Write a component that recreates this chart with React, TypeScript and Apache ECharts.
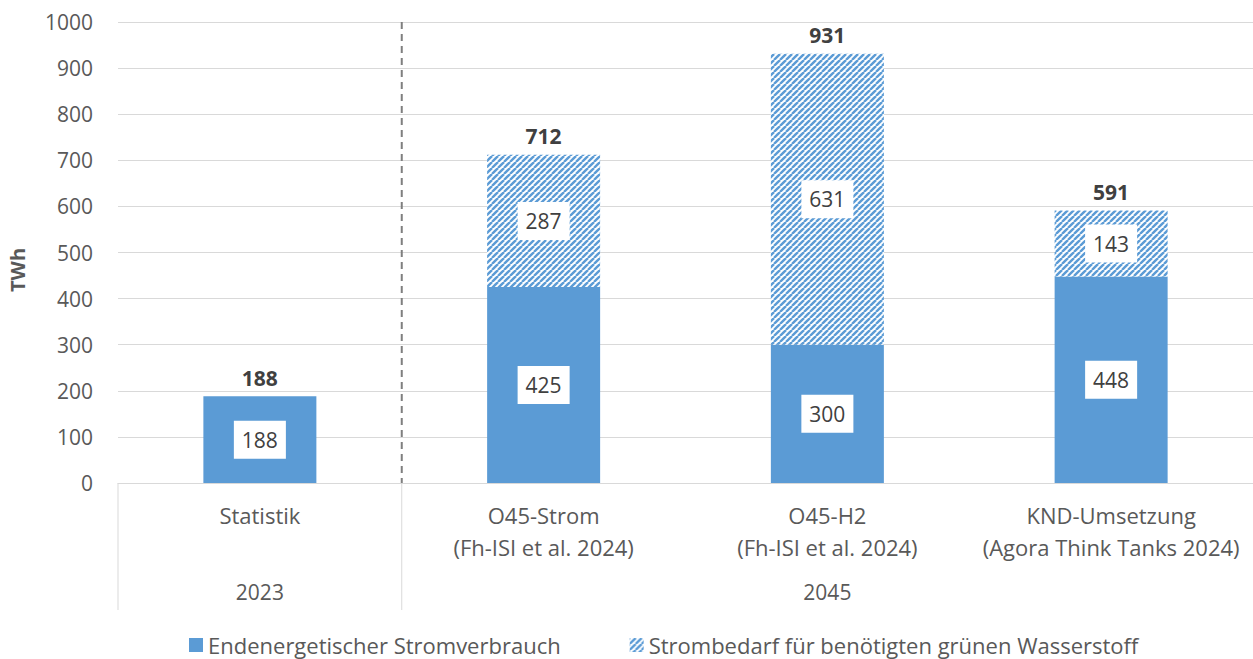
import React, { useEffect, useRef } from "react";
import * as echarts from "echarts";

const categories = [
  "Statistik",
  "O45-Strom\n(Fh-ISI et al. 2024)",
  "O45-H2\n(Fh-ISI et al. 2024)",
  "KND-Umsetzung\n(Agora Think Tanks 2024)",
];
const groups = [
  { label: "2023", from: 0, to: 0 },
  { label: "2045", from: 1, to: 3 },
];
const seriesNames = [
  "Endenergetischer Stromverbrauch",
  "Strombedarf für benötigten grünen Wasserstoff",
];
const endenergie = [188, 425, 300, 448];
const wasserstoff: (number | null)[] = [null, 287, 631, 143];
const yTicks = { min: 0, max: 1000, interval: 100 };

const BLUE = "#5B9BD5";
const TEXT = "#595959";
const DARK = "#404040";
const FONT = "'Open Sans', sans-serif";

function makeHatch() {
  const size = 6;
  const c = document.createElement("canvas");
  c.width = size;
  c.height = size;
  const ctx = c.getContext("2d")!;
  ctx.fillStyle = "#ffffff";
  ctx.fillRect(0, 0, size, size);
  ctx.strokeStyle = BLUE;
  ctx.lineWidth = 2.4;
  for (const x0 of [-size, 0, size]) {
    ctx.beginPath();
    ctx.moveTo(x0, size);
    ctx.lineTo(x0 + size, 0);
    ctx.stroke();
  }
  return { image: c, repeat: "repeat", imageWidth: size, imageHeight: size } as any;
}

export default function App() {
  const ref = useRef<HTMLDivElement>(null);
  useEffect(() => {
    if (!ref.current) return;
    const chart = echarts.init(ref.current, undefined, { renderer: "svg" });
    const totals = endenergie.map((v, i) => v + (wasserstoff[i] ?? 0));
    const hatch = makeHatch();
    const boxLabel = {
      show: true,
      position: "inside",
      color: DARK,
      fontFamily: FONT,
      fontSize: 21,
      backgroundColor: "#ffffff",
      padding: [8, 8, 8, 8],
      lineHeight: 22,
    };
    chart.setOption({
      animation: false,
      textStyle: { fontFamily: FONT },
      grid: { left: 118, right: -1, top: 22, bottom: 176, containLabel: false },
      legend: {
        data: seriesNames,
        left: 189,
        top: 634,
        padding: 0,
        itemGap: 69,
        itemWidth: 14,
        itemHeight: 14,
        icon: "rect",
        textStyle: { color: TEXT, fontSize: 22, lineHeight: 22, fontFamily: FONT },
        selectedMode: false,
      },
      xAxis: {
        type: "category",
        data: categories,
        axisLine: { lineStyle: { color: "#d9d9d9", width: 1 } },
        axisTick: { show: false },
        axisLabel: {
          color: TEXT,
          fontSize: 22,
          fontFamily: FONT,
          lineHeight: 32,
          margin: 16,
          interval: 0,
        },
      },
      yAxis: {
        type: "value",
        min: yTicks.min,
        max: yTicks.max,
        interval: yTicks.interval,
        axisLine: { show: false },
        axisTick: { show: false },
        splitLine: { lineStyle: { color: "#d9d9d9", width: 1 } },
        axisLabel: {
          color: TEXT,
          fontSize: 21,
          fontFamily: FONT,
          margin: 25,
          formatter: (v: number) => String(v),
        },
      },
      series: [
        {
          name: seriesNames[0],
          type: "bar",
          stack: "total",
          barWidth: 113,
          data: endenergie,
          itemStyle: { color: BLUE },
          label: boxLabel,
          silent: true,
        },
        {
          name: seriesNames[1],
          type: "bar",
          stack: "total",
          barWidth: 113,
          data: wasserstoff,
          itemStyle: { color: hatch },
          label: boxLabel,
          silent: true,
        },
        {
          name: "Summe",
          type: "bar",
          barWidth: 113,
          barGap: "-100%",
          data: totals,
          itemStyle: { color: "transparent" },
          z: 1,
          silent: true,
          label: {
            show: true,
            position: "top",
            distance: 8,
            color: DARK,
            fontFamily: FONT,
            fontWeight: "bold",
            fontSize: 21,
          },
        },
      ],
    });

    const px = (i: number) => chart.convertToPixel({ xAxisIndex: 0 }, i) as number;
    const py = (v: number) => chart.convertToPixel({ yAxisIndex: 0 }, v) as number;
    const step = px(1) - px(0);
    const yBase = py(yTicks.min);
    const yTop = py(yTicks.max);
    const sepBottom = 610;
    const graphics: any[] = [];
    groups.forEach((g, gi) => {
      const left = px(g.from) - step / 2;
      const right = px(g.to) + step / 2;
      graphics.push({
        type: "text",
        x: (left + right) / 2,
        y: 592,
        style: {
          text: g.label,
          fill: TEXT,
          fontSize: 21,
          fontFamily: FONT,
          align: "center",
          verticalAlign: "middle",
        },
      });
      graphics.push({
        type: "line",
        shape: { x1: left, y1: yBase, x2: left, y2: sepBottom },
        style: { stroke: "#d9d9d9", lineWidth: 1 },
      });
      if (gi > 0) {
        graphics.push({
          type: "line",
          shape: { x1: left, y1: yTop, x2: left, y2: yBase },
          style: { stroke: "#7f7f7f", lineWidth: 2, lineDash: [7, 5] },
          z: 10,
        });
      }
    });
    graphics.push({
      type: "text",
      x: 17,
      y: 270,
      rotation: Math.PI / 2,
      style: {
        text: "TWh",
        fill: TEXT,
        fontSize: 20,
        fontWeight: "bold",
        fontFamily: FONT,
        align: "center",
        verticalAlign: "middle",
      },
    });
    chart.setOption({ graphic: graphics });

    return () => chart.dispose();
  }, []);
  return (
    <div
      ref={ref}
      style={{ position: "fixed", left: 0, top: 0, width: 1253, height: 659, background: "#fff" }}
    />
  );
}
